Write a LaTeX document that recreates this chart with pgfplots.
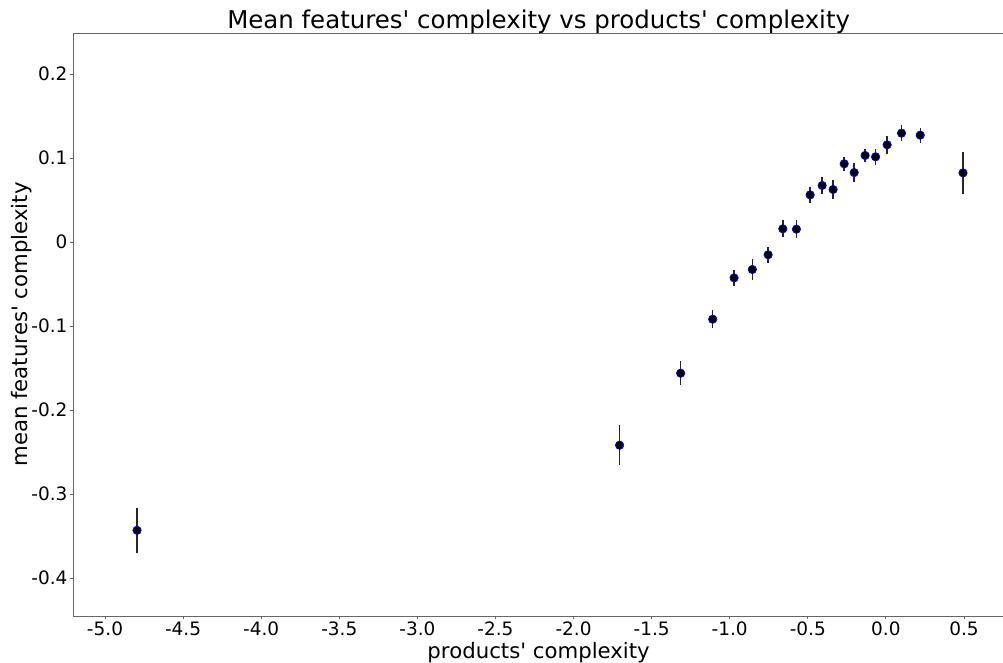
\documentclass[border=0pt]{standalone}
\usepackage{fontspec}
\setmainfont{DejaVu Sans}[Ligatures=TeXOff]
\usepackage{pgfplots}
\usepackage{pgfplotstable}
\pgfplotsset{compat=1.18}

% x, mean, error
\pgfplotstableread{
x       y        ey
-4.795  -0.343   0.027
-1.705  -0.2417  0.024
-1.314  -0.156   0.014
-1.109  -0.0917  0.011
-0.972  -0.0425  0.0093
-0.855  -0.0325  0.012
-0.754  -0.015   0.0095
-0.660   0.0159  0.0103
-0.573   0.0155  0.011
-0.485   0.0563  0.0095
-0.408   0.0675  0.0099
-0.338   0.0627  0.0113
-0.267   0.0933  0.0083
-0.203   0.0829  0.0113
-0.133   0.1032  0.008
-0.066   0.1016  0.0095
 0.008   0.1159  0.0107
 0.100   0.1298  0.0095
 0.220   0.1274  0.009
 0.494   0.0825  0.025
}\datatable

\begin{document}
\begin{tikzpicture}
\begin{axis}[
    scale only axis,
    width=670.5pt, height=419.76pt,
    xmin=-5.205, xmax=0.758,
    ymin=-0.445, ymax=0.249,
    axis line style={black!60, line width=0.6pt},
    tick style={black!60, line width=0.6pt},
    tick align=outside,
    major tick length=2.5pt,
    xtick pos=bottom, ytick pos=left,
    xtick={-5,-4.5,...,0.5},
    xticklabels={-5.0,-4.5,-4.0,-3.5,-3.0,-2.5,-2.0,-1.5,-1.0,-0.5,0.0,0.5},
    ytick={-0.4,-0.3,-0.2,-0.1,0,0.1,0.2},
    yticklabels={-0.4,-0.3,-0.2,-0.1,0,0.1,0.2},
    ticklabel style={font=\fontsize{13.3}{15}\selectfont},
    xticklabel style={yshift=1.8pt},
    yticklabel style={xshift=2pt},
    title={Mean features' complexity vs products' complexity},
    title style={at={(axis description cs:0.5,1)}, anchor=base, yshift=-3.1pt,
        font=\fontsize{17.6}{20}\selectfont},
    xlabel={products' complexity},
    xlabel style={at={(axis description cs:0.5,-0.073)}, anchor=base,
        font=\fontsize{15.3}{18}\selectfont},
    ylabel={mean features' complexity},
    ylabel style={at={(axis description cs:-0.0484,0.5)}, anchor=base,
        font=\fontsize{15.3}{18}\selectfont},
]
\addplot[only marks, mark=*, mark size=3pt,
    mark options={draw=blue, fill=black, line width=0.55pt},
    error bars/.cd, y dir=both, y explicit,
    error mark=none,
    error bar style={black!85, line width=1pt}]
    table[x=x, y=y, y error=ey] {\datatable};
\end{axis}
\pgfresetboundingbox
\path[use as bounding box] (-52.56pt,-33.12pt) rectangle (669.6pt,443.52pt);
\end{tikzpicture}
\end{document}
